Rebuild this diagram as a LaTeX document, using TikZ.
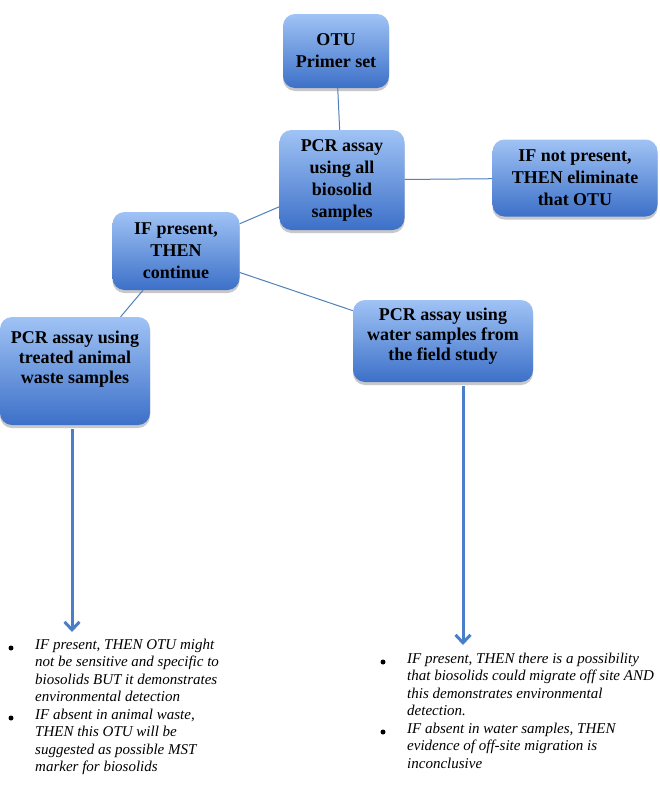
\documentclass[tikz,border=0pt]{standalone}
\usepackage{fontspec}
\setmainfont{Liberation Serif}
\usetikzlibrary{shadows,arrows.meta}
\definecolor{boxtop}{RGB}{160,195,245}
\definecolor{boxbot}{RGB}{60,112,200}
\definecolor{linkc}{RGB}{79,129,189}
\definecolor{arrc}{RGB}{74,126,200}
\tikzset{
 box/.style={rectangle, rounded corners=12pt, top color=boxtop, bottom color=boxbot, draw=none, align=center,
   font=\fontsize{18}{22}\selectfont\bfseries, inner sep=0pt,
   drop shadow={shadow xshift=0pt,shadow yshift=-3pt,opacity=0.3,fill=black!70}},
 boxtext/.style={align=center, font=\fontsize{18}{20}\selectfont\bfseries, inner sep=0pt},
 link/.style={draw=linkc, line width=1pt},
 bigarrow/.style={draw=arrc, line width=3pt, -{Straight Barb[length=8pt,width=15pt]}, shorten <=4pt},
 listtext/.style={anchor=north west, inner sep=0pt, align=left, font=\fontsize{15}{17.2}\selectfont\itshape},
 bul/.style={circle, fill=black, inner sep=0pt, minimum size=5pt}
}
\begin{document}
\begin{tikzpicture}[x=1pt,y=-1pt]
\useasboundingbox (0,0) rectangle (660,804);
\fill[white] (0,0) rectangle (660,804);

\node[box, minimum width=106, minimum height=74] (b1) at (336,51) {OTU\\Primer set};
\node[box, minimum width=125, minimum height=100] (b2) at (342,180) {PCR assay\\using all\\biosolid\\samples};
\node[box, minimum width=165, minimum height=77] (b3) at (575,178) {IF not present,\\THEN eliminate\\that OTU};
\node[box, minimum width=127, minimum height=78] (b4) at (176,251) {IF present,\\THEN\\continue};
\node[box, minimum width=150, minimum height=108] (b5) at (75,371) {};
\node[boxtext] (t5) at (75,359) {PCR assay using\\treated animal\\waste samples};
\node[box, minimum width=180, minimum height=82] (b6) at (443,341) {};
\node[boxtext] (t6) at (443,336) {PCR assay using\\water samples from\\the field study};

\draw[link] (b1) -- (b2);
\draw[link] (b2) -- (b3);
\draw[link] (b4) -- (b2);
\draw[link] (b4) -- (b6);
\draw[link] (b4) -- (b5);

\coordinate (a1end) at (72,632);
\coordinate (a2end) at (463,645);
\draw[bigarrow] (b5.south -| a1end) -- (a1end);
\draw[bigarrow] (b6.south -| a2end) -- (a2end);

\node[bul] (lb1) at (11,648) {};
\node[listtext] (l1) at (35,639) {IF present, THEN OTU might\\not be sensitive and specific to\\biosolids BUT it demonstrates\\environmental detection};
\node[bul] (lb2) at (11,718) {};
\node[listtext] (l2) at (35,709) {IF absent in animal waste,\\THEN this OTU will be\\suggested as possible MST\\marker for biosolids};

\node[bul] (rb1) at (383,662) {};
\node[listtext] (r1) at (407,653) {IF present, THEN there is a possibility\\that biosolids could migrate off site AND\\this demonstrates environmental\\detection.};
\node[bul] (rb2) at (383,732) {};
\node[listtext] (r2) at (407,723) {IF absent in water samples, THEN\\evidence of off-site migration is\\inconclusive};
\end{tikzpicture}
\end{document}
